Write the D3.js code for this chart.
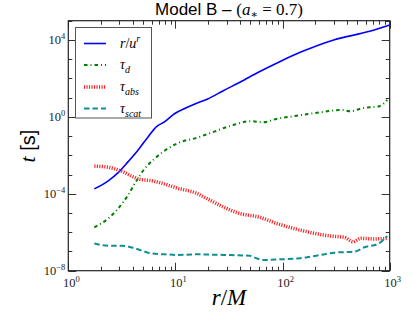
<!DOCTYPE html>
<html><head><meta charset="utf-8">
<script src="https://cdn.jsdelivr.net/npm/d3@7"></script>
<style>body{margin:0;background:#fff}svg{display:block}</style>
</head><body>
<svg id="c" width="415" height="313"></svg>
<script>
// ---- data ----
const rU_r = [1.75,2.36,2.92,3.62,4.49,5.57,6.66,7.96,9.87,12.2,15.2,20,28,40,60,94,150,300,650,1000];
const rU_t = [1.8e-4,4.7e-4,1.26e-3,4.7e-3,1.9e-2,9.3e-2,0.31,0.56,1.5,2.75,4.7,8.5,23,63,214,740,2400,1.0e4,2.8e4,6.0e4];
const tauD_r = [1.75,2.36,2.92,3.62,4.19,5.19,6.43,8.55,11.4,15.2,20.9,32.1,51.2,65.7,87.5,130,230,353,432,542,804,950];
const tauD_t = [1.8e-6,5.2e-6,1.7e-5,8.7e-5,3.5e-4,2.1e-3,6.9e-3,2.3e-2,5.1e-2,7.6e-2,0.14,0.33,0.60,0.52,0.78,1.1,1.74,2.3,1.95,2.75,3.6,7.6];
const tauAbs_r = [1.75,2.36,3.14,3.90,4.66,5.98,7.96,10.6,15.2,19.5,27.8,39.8,61.2,87.5,135,199,285,379,453,542,722,950];
const tauAbs_t = [2.75e-3,2.4e-3,1.5e-3,8.3e-4,5.6e-4,4.8e-4,3.2e-4,1.9e-4,1.15e-4,5.8e-5,2.1e-5,9.5e-6,6.0e-6,2.9e-6,1.45e-6,8.7e-7,6.3e-7,5.4e-7,3.2e-7,4.8e-7,4.5e-7,4.8e-7];
const tauScat_r = [1.75,2.36,3.14,4.19,5.98,7.96,10.6,15.2,27.8,49.3,57,65.7,94,144,199,305,469,582,774,948];
const tauScat_t = [2.6e-7,2.0e-7,2.0e-7,1.45e-7,7.9e-8,7.1e-8,6.6e-8,7.1e-8,6.6e-8,6.0e-8,4.4e-8,3.6e-8,3.9e-8,4.4e-8,5.8e-8,8.7e-8,9.8e-8,1.66e-7,2.45e-7,6.3e-7];
const xTickExp = [0,1,2,3];
const yTickExp = [-8,-4,0,4];

// ---- layout ----
const svg = d3.select("#c");
const L = 68.3, R = 389.7, T = 20.7, B = 270.7;
const x = d3.scaleLog().domain([1,1000]).range([L,R]);
const y = d3.scaleLog().domain([1e-8,1e5]).range([B,T]);
const serif = "'Liberation Serif','DejaVu Serif',serif";
const sans = "'Liberation Sans','DejaVu Sans',sans-serif";

svg.append("clipPath").attr("id","clip").append("rect")
  .attr("x",L).attr("y",T).attr("width",R-L).attr("height",B-T);

const series = [
  {r:rU_r, t:rU_t, color:"#0000ff", w:1.6, dash:null},
  {r:tauD_r, t:tauD_t, color:"#008000", w:2, dash:"3.5,3,1,3"},
  {r:tauAbs_r, t:tauAbs_t, color:"#ff1a1a", w:3.5, dash:"1.1,1.4"},
  {r:tauScat_r, t:tauScat_t, color:"#109090", w:2, dash:"5.5,3"}
];
const line = d3.line().x(d=>x(d[0])).y(d=>y(d[1])).curve(d3.curveMonotoneX);
const g = svg.append("g").attr("clip-path","url(#clip)");
series.forEach(s=>{
  g.append("path").datum(s.r.map((r,i)=>[r,s.t[i]]))
   .attr("d",line).attr("fill","none").attr("stroke",s.color)
   .attr("stroke-width",s.w).attr("stroke-dasharray",s.dash);
});

// axes (inward ticks, mirrored)
const xMinor = [];
for (let e=0;e<3;e++) for (let k=2;k<=9;k++) xMinor.push(k*Math.pow(10,e));
const xMajor = xTickExp.map(e=>Math.pow(10,e));
const yAll = d3.range(-8,6).map(e=>Math.pow(10,e));
const yMajor = yTickExp.map(e=>Math.pow(10,e));
const tk = svg.append("g").attr("stroke","#333").attr("stroke-width",1);
xMinor.forEach(v=>{
  const px = Math.round(x(v))+0.5;
  tk.append("line").attr("x1",px).attr("x2",px).attr("y1",B).attr("y2",B-4);
  tk.append("line").attr("x1",px).attr("x2",px).attr("y1",T).attr("y2",T+4);
});
xMajor.forEach(v=>{
  const px = Math.round(x(v))+0.5;
  tk.append("line").attr("x1",px).attr("x2",px).attr("y1",B).attr("y2",B-8);
  tk.append("line").attr("x1",px).attr("x2",px).attr("y1",T).attr("y2",T+8);
});
yAll.forEach(v=>{
  const py = Math.round(y(v))+0.5;
  const len = yMajor.includes(v) ? 8 : 4;
  tk.append("line").attr("x1",L).attr("x2",L+len).attr("y1",py).attr("y2",py);
  tk.append("line").attr("x1",R).attr("x2",R-len).attr("y1",py).attr("y2",py);
});
svg.append("rect").attr("x",L).attr("y",T).attr("width",R-L).attr("height",B-T)
  .attr("fill","none").attr("stroke","#222").attr("stroke-width",1.2);

// tick labels
function pow10(sel, e){
  sel.append("tspan").text("10");
  sel.append("tspan").attr("dy",-5).attr("font-size",8.5).text(e<0 ? "\u2212"+(-e) : String(e));
}
xTickExp.forEach(e=>{
  const t = svg.append("text").attr("x",x(Math.pow(10,e))+3).attr("y",B+16)
    .attr("text-anchor","middle").attr("font-family",serif).attr("font-size",12.5).attr("fill","#222");
  pow10(t,e);
});
yTickExp.forEach(e=>{
  const t = svg.append("text").attr("x",L-3).attr("y",y(Math.pow(10,e))+4)
    .attr("text-anchor","end").attr("font-family",serif).attr("font-size",12.5).attr("fill","#222");
  pow10(t,e);
});

// title
const title = svg.append("text").attr("x",(L+R)/2).attr("y",14.5).attr("text-anchor","middle")
  .attr("font-size",17).attr("fill","#000");
title.append("tspan").attr("font-family",sans).text("Model B \u2013 ");
title.append("tspan").attr("font-family",serif).text("(");
title.append("tspan").attr("font-family",serif).attr("font-style","italic").text("a");
title.append("tspan").attr("font-family",serif).attr("font-size",11).attr("dy",3).text("\u2217");
title.append("tspan").attr("font-family",serif).attr("dy",-3).text(" = 0.7)");

// axis labels
const xl = svg.append("text").attr("x",(L+R)/2).attr("y",305).attr("text-anchor","middle")
  .attr("font-family",serif).attr("font-size",23).attr("fill","#000");
xl.append("tspan").attr("font-style","italic").text("r");
xl.append("tspan").text("/");
xl.append("tspan").attr("font-style","italic").text("M");
const yl = svg.append("text").attr("transform","translate(35,146) rotate(-90)")
  .attr("text-anchor","middle").attr("font-size",20).attr("fill","#000");
yl.append("tspan").attr("font-family",serif).attr("font-style","italic").attr("font-size",22).text("t");
yl.append("tspan").attr("font-family",sans).text(" [s]");

// legend
const lg = svg.append("g");
lg.append("rect").attr("x",75.5).attr("y",27.5).attr("width",76).attr("height",90.5)
  .attr("fill","#fff").attr("stroke","#555").attr("stroke-width",1);
const rowsY = [43.5,65,87,108.5];
const legendLabels = [
  [["r",true,0],["/",false,0],["u",true,0],["r",true,-6]],
  [["\u03c4",true,0],["d",true,4]],
  [["\u03c4",true,0],["abs",true,4]],
  [["\u03c4",true,0],["scat",true,4]]
];
series.forEach((s,i)=>{
  lg.append("line").attr("x1",84).attr("x2",106).attr("y1",rowsY[i]).attr("y2",rowsY[i])
    .attr("stroke",s.color).attr("stroke-width",s.w).attr("stroke-dasharray",s.dash);
  const t = lg.append("text").attr("x",120).attr("y",rowsY[i]+4)
    .attr("font-family",serif).attr("font-size",14).attr("fill","#000");
  legendLabels[i].forEach(([txt,it,dy])=>{
    const sp = t.append("tspan").text(txt).attr("font-style",it?"italic":"normal");
    if (dy!==0) sp.attr("dy",dy).attr("font-size",10);
  });
});
</script>
</body></html>
